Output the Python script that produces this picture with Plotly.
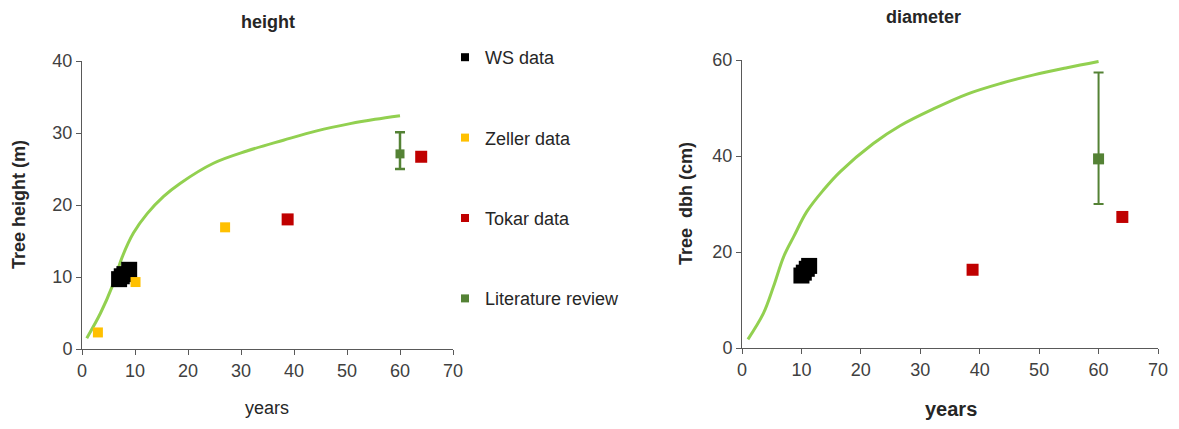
import plotly.graph_objects as go

# growth curves
curve_h_years = [0.9, 3.5, 5.7, 7.6, 9.7, 12.3, 15.4, 18.5, 24.8, 31.1, 38.0, 44.3, 50.6, 55.3, 60]
curve_h = [1.5, 5.0, 8.7, 12.8, 16.1, 18.8, 21.2, 23.0, 25.8, 27.5, 29.0, 30.3, 31.3, 31.9, 32.4]
curve_d_years = [1.0, 3.6, 5.3, 7.0, 8.7, 10.9, 13.7, 16.5, 22.1, 26.6, 32.2, 37.9, 43.5, 49.1, 54.7, 60]
curve_d = [1.8, 7.2, 12.8, 19.0, 23.2, 28.4, 32.9, 36.7, 42.6, 46.3, 49.8, 52.9, 55.1, 56.9, 58.4, 59.7]

# WS data
ws_h_years = [7.0, 7.5, 8.0, 8.9]
ws_h = [9.7, 10.1, 10.4, 11.0]
ws_d_years = [10.0, 10.4, 10.9, 11.3]
ws_d = [15.1, 15.7, 16.5, 17.1]

# Zeller data (height only)
zeller_years = [3, 10.1, 27]
zeller_h = [2.3, 9.3, 16.9]

# Tokar data
tokar_years = [38.8, 64]
tokar_h = [18.0, 26.7]
tokar_d = [16.3, 27.3]

# Literature review
lit_years = [60]
lit_h = [27.1]
lit_h_plus = [3.0]
lit_h_minus = [2.1]
lit_d = [39.4]
lit_d_plus = [18.0]
lit_d_minus = [9.4]

GREEN_LINE = "#92D050"
LIT = "#548235"
ZELLER = "#FFC000"
TOKAR = "#C00000"
TXT = "#404040"
FONT = "Liberation Sans, Arial"

# page body has an 8px margin, so the figure is drawn from (8, 8)
OFF = 8
W, H = 1179 - OFF, 429 - OFF


def px_x(p):
    return (p - OFF) / W


def px_y(p):
    return 1 - (p - OFF) / H


fig = go.Figure()

# left: height
fig.add_trace(go.Scatter(x=curve_h_years, y=curve_h, mode="lines", line=dict(color=GREEN_LINE, width=3, shape="spline"),
                         showlegend=False, xaxis="x", yaxis="y"))
fig.add_trace(go.Scatter(x=ws_h_years, y=ws_h, mode="markers", marker=dict(symbol="square", size=16, color="black"),
                         showlegend=False, xaxis="x", yaxis="y"))
fig.add_trace(go.Scatter(x=zeller_years, y=zeller_h, mode="markers", marker=dict(symbol="square", size=10, color=ZELLER),
                         showlegend=False, xaxis="x", yaxis="y"))
fig.add_trace(go.Scatter(x=tokar_years, y=tokar_h, mode="markers", marker=dict(symbol="square", size=12, color=TOKAR),
                         showlegend=False, xaxis="x", yaxis="y"))
fig.add_trace(go.Scatter(x=lit_years, y=lit_h, mode="markers", marker=dict(symbol="square", size=9, color=LIT),
                         error_y=dict(type="data", symmetric=False, array=lit_h_plus, arrayminus=lit_h_minus,
                                      color=LIT, thickness=2.5, width=5),
                         showlegend=False, xaxis="x", yaxis="y"))

# right: diameter
fig.add_trace(go.Scatter(x=curve_d_years, y=curve_d, mode="lines", line=dict(color=GREEN_LINE, width=3, shape="spline"),
                         showlegend=False, xaxis="x2", yaxis="y2"))
fig.add_trace(go.Scatter(x=ws_d_years, y=ws_d, mode="markers", marker=dict(symbol="square", size=16, color="black"),
                         showlegend=False, xaxis="x2", yaxis="y2"))
fig.add_trace(go.Scatter(x=tokar_years, y=tokar_d, mode="markers", marker=dict(symbol="square", size=12, color=TOKAR),
                         showlegend=False, xaxis="x2", yaxis="y2"))
fig.add_trace(go.Scatter(x=lit_years, y=lit_d, mode="markers", marker=dict(symbol="square", size=11, color=LIT),
                         error_y=dict(type="data", symmetric=False, array=lit_d_plus, arrayminus=lit_d_minus,
                                      color=LIT, thickness=2, width=5),
                         showlegend=False, xaxis="x2", yaxis="y2"))

# legend entries
for i, (name, col) in enumerate([("WS data", "black"), ("Zeller data", ZELLER),
                                 ("Tokar data", TOKAR), ("Literature review", LIT)]):
    fig.add_trace(go.Scatter(x=[None], y=[None], mode="markers", name=name, legendgroup=str(i),
                             marker=dict(symbol="square", size=8, color=col), xaxis="x", yaxis="y"))

axis_common = dict(showline=True, linecolor="#595959", linewidth=1, ticks="outside", ticklen=5,
                   tickcolor="#595959", showgrid=False, zeroline=False,
                   tickfont=dict(family=FONT, size=18, color=TXT))

fig.update_layout(
    width=W, height=H,
    margin=dict(l=0, r=0, t=0, b=0, autoexpand=False),
    plot_bgcolor="white", paper_bgcolor="white",
    xaxis=dict(domain=[px_x(82), px_x(453)], range=[0, 70], dtick=10, anchor="y", **axis_common),
    yaxis=dict(domain=[px_y(349), px_y(61)], range=[0, 40], dtick=10, anchor="x", **axis_common),
    xaxis2=dict(domain=[px_x(742), px_x(1158)], range=[0, 70], dtick=10, anchor="y2", **axis_common),
    yaxis2=dict(domain=[px_y(348), px_y(60)], range=[0, 60], dtick=20, anchor="x2", **axis_common),
    legend=dict(x=px_x(445), y=px_y(39), xanchor="left", yanchor="top", traceorder="grouped", tracegroupgap=54,
                font=dict(family=FONT, size=18, color="#262626"),
                bgcolor="rgba(0,0,0,0)", itemwidth=30),
    font=dict(family=FONT, color=TXT),
)

# annotations placed by pixel (centre of text)
labels = [
    ("<b>height</b>", 268, 22, 0, 18),
    ("<b>diameter</b>", 923, 17, 0, 18),
    ("<b>Tree height (m)</b>", 19, 205, -90, 18),
    ("<b>Tree  dbh (cm)</b>", 686, 204, -90, 18),
    ("years", 267, 408, 0, 18),
    ("<b>years</b>", 951, 409, 0, 20),
]
for text, px, py, ang, size in labels:
    fig.add_annotation(text=text, x=px_x(px), y=px_y(py), xref="paper", yref="paper",
                       xanchor="center", yanchor="middle",
                       textangle=ang, showarrow=False, font=dict(family=FONT, size=size, color="#262626"))

fig.write_html("out.html")
